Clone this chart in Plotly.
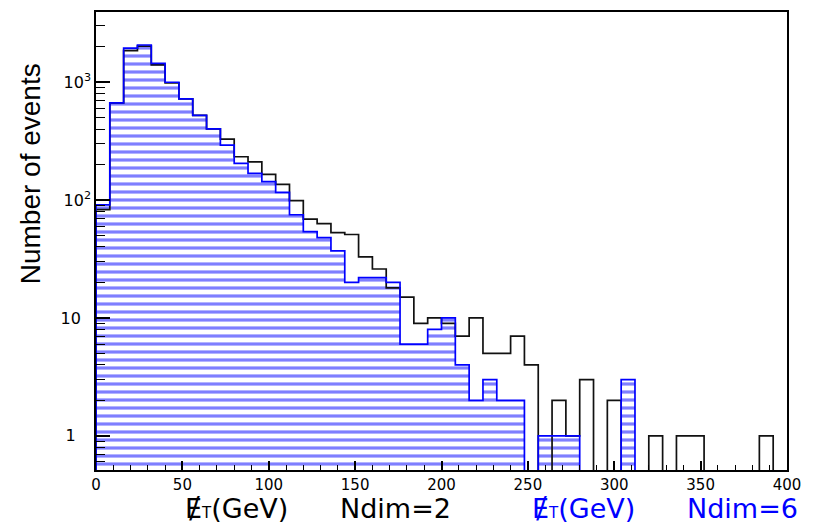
import numpy as np
import plotly.graph_objects as go

# ---- data (8 GeV bins from 0 to 400 GeV) ----
bin_edges = list(range(0, 401, 8))
ndim2_counts = [83, 668, 1850, 2020, 1400, 985, 722, 523, 401, 328,
                233, 211, 165, 136, 99, 69, 63, 53, 51, 33,
                26, 18, 15, 9, 10, 9, 7, 10, 5, 5,
                7, 4, 0, 2, 1, 3, 0, 2, 0, 0,
                1, 0, 1, 1, 0, 0, 0, 0, 1, 0]
ndim6_counts = [91, 668, 1940, 2066, 1443, 998, 722, 523, 401, 292,
                205, 168, 143, 116, 75, 54, 48, 37, 20, 22,
                22, 20, 6, 6, 8, 10, 4, 2, 3, 2,
                2, 0, 1, 1, 1, 0, 0, 0, 3, 0,
                0, 0, 0, 0, 0, 0, 0, 0, 0, 0]
y_tickvals = [1, 10, 100, 1000]
y_ticktext = ["1\u00a0\u00a0\u00a0", "10\u00a0\u00a0", "10<sup>2</sup>", "10<sup>3</sup>"]
x_tickvals = [0, 50, 100, 150, 200, 250, 300, 350, 400]

edges = np.array(bin_edges, dtype=float)
centers = (edges[:-1] + edges[1:]) / 2
width = edges[1] - edges[0]

FLOOR = 1e-3  # below axis range: outline drops to the bottom for empty bins


def step(counts):
    vals = [c if c > 0 else FLOOR for c in counts]
    xs = [edges[0]] + list(edges) + [edges[-1]]
    ys = [FLOOR] + vals + [vals[-1], FLOOR]
    return xs, ys


fig = go.Figure()

# Ndim=2 black outline
bx, by = step(ndim2_counts)
fig.add_trace(go.Scatter(x=bx, y=by, mode="lines", line_shape="hv",
                         line=dict(color="#111111", width=1.7),
                         hoverinfo="skip", showlegend=False))

# Ndim=6 hatched blue histogram
fig.add_trace(go.Bar(x=centers, y=[c if c > 0 else None for c in ndim6_counts],
                     width=width,
                     marker=dict(color="rgba(0,0,0,0)",
                                 line=dict(width=0),
                                 pattern=dict(shape="-", fgcolor="#0000ff",
                                              bgcolor="rgba(0,0,0,0)",
                                              size=8, solidity=0.4)),
                     showlegend=False))
ux, uy = step(ndim6_counts)
fig.add_trace(go.Scatter(x=ux, y=uy, mode="lines", line_shape="hv",
                         line=dict(color="#0000ff", width=1.7),
                         hoverinfo="skip", showlegend=False))

minor_y = [m * 10 ** d for d in range(-1, 4) for m in range(2, 10)]
minor_y = [v for v in minor_y if 0.55 < v < 3900]

fig.update_layout(
    width=818, height=525,
    margin=dict(l=96, r=31, t=10, b=55),
    paper_bgcolor="white", plot_bgcolor="white",
    bargap=0,
    font=dict(family="DejaVu Sans", color="black"),
    xaxis=dict(range=[0, 400], tickmode="array", tickvals=x_tickvals,
               ticks="inside", ticklen=9, tickwidth=1.5, tickcolor="black",
               minor=dict(dtick=10, tick0=0, ticks="inside", ticklen=5,
                          tickwidth=1.2, tickcolor="black"),
               showline=True, linewidth=1.6, linecolor="black", mirror=True,
               showgrid=False, zeroline=False,
               tickfont=dict(family="DejaVu Sans", size=15, color="black")),
    yaxis=dict(type="log", range=[-0.29, 3.595], tickmode="array",
               tickvals=y_tickvals, ticktext=y_ticktext,
               ticks="inside", ticklen=14, tickwidth=1.5, tickcolor="black",
               minor=dict(tickmode="array", tickvals=minor_y, ticks="inside",
                          ticklen=9, tickwidth=1.2, tickcolor="black"),
               showline=True, linewidth=1.6, linecolor="black", mirror=True,
               showgrid=False, zeroline=False,
               tickfont=dict(family="DejaVu Sans", size=16, color="black")),
)

fig.add_annotation(text="Number of events", textangle=-90,
                   xref="paper", yref="paper", x=-0.0955, y=0.6457,
                   xanchor="center", yanchor="middle", showarrow=False,
                   font=dict(family="Liberation Sans", size=28, color="black"))

# x-axis captions (black for Ndim=2, blue for Ndim=6); (text, centre px, centre y px, colour)
met = "\u0246<span style='font-size:15px'>T</span>(GeV)"
captions = [(met, 236, 509, "black"), ("Ndim=2", 395, 509, "black"),
            (met, 583, 509, "#0000ff"), ("Ndim=6", 742, 509, "#0000ff")]
for txt, cx, cy, col in captions:
    fig.add_annotation(text=txt, xref="paper", yref="paper",
                       x=(cx - 96) / 691, y=(470 - cy) / 460,
                       xanchor="center", yanchor="middle", showarrow=False,
                       font=dict(family="DejaVu Sans", size=27, color=col))

fig.write_html("out.html")
